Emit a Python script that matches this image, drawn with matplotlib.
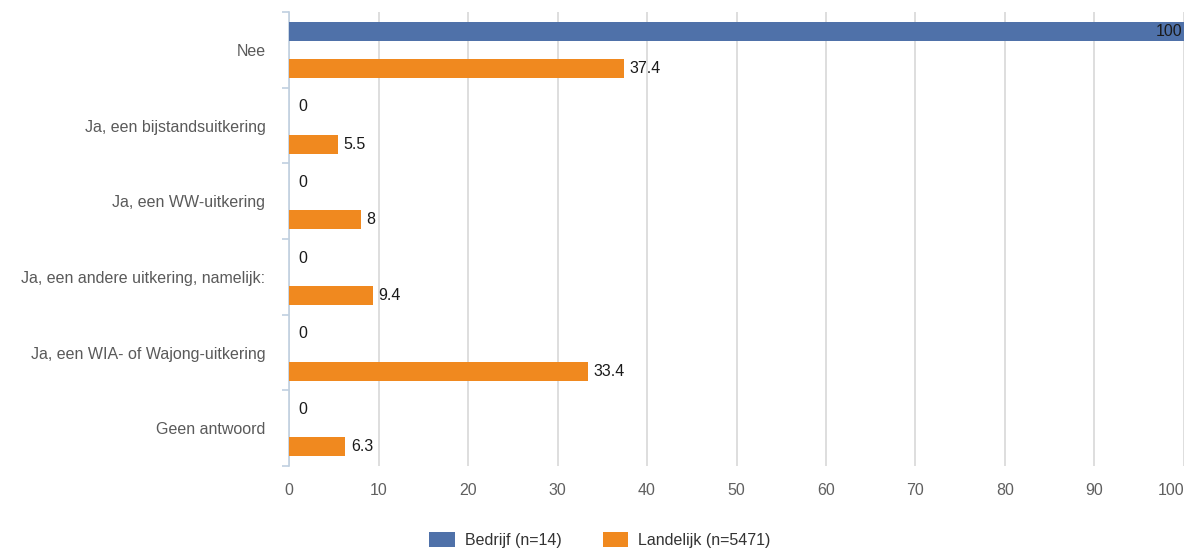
import numpy as np
import matplotlib.pyplot as plt

plt.rcParams['font.family'] = ['Liberation Sans', 'DejaVu Sans']

categories = ['Nee', 'Ja, een bijstandsuitkering', 'Ja, een WW-uitkering',
              'Ja, een andere uitkering, namelijk:', 'Ja, een WIA- of Wajong-uitkering',
              'Geen antwoord']
bedrijf = [100, 0, 0, 0, 0, 0]
landelijk = [37.4, 5.5, 8, 9.4, 33.4, 6.3]
series_names = ['Bedrijf (n=14)', 'Landelijk (n=5471)']
xticks = [0, 10, 20, 30, 40, 50, 60, 70, 80, 90, 100]

blue = '#4f71a9'
orange = '#f0891f'
fs = 11.5

fig = plt.figure(figsize=(11.88, 5.53), dpi=100)
ax = fig.add_axes([0.2433, 0.1573, 0.9966 - 0.2433, 0.9783 - 0.1573])

y = np.arange(len(categories))
h = 0.25
off = 0.245
b1 = ax.barh(y - off, bedrijf, height=h, color=blue, label=series_names[0], zorder=3)
b2 = ax.barh(y + off, landelijk, height=h, color=orange, label=series_names[1], zorder=3)

for rect, v in zip(b1, bedrijf):
    yc = rect.get_y() + rect.get_height() / 2
    if v >= 95:
        ax.annotate(f'{v:g}', (v, yc), xytext=(-1, 0), textcoords='offset points',
                    ha='right', va='center', fontsize=fs, color='#1a1a1a', zorder=4)
    else:
        ax.annotate(f'{v:g}', (v, yc), xytext=(7, 0), textcoords='offset points',
                    ha='left', va='center', fontsize=fs, color='#1a1a1a', zorder=4)
for rect, v in zip(b2, landelijk):
    yc = rect.get_y() + rect.get_height() / 2
    ax.annotate(f'{v:g}', (v, yc), xytext=(4, 0), textcoords='offset points',
                ha='left', va='center', fontsize=fs, color='#1a1a1a', zorder=4)

ax.set_xlim(0, 100)
ax.set_ylim(len(categories) - 0.5, -0.5)
ax.set_xticks(xticks)
ax.set_xticklabels([str(t) for t in xticks], fontsize=fs, color='#606060')
ax.get_xticklabels()[-1].set_horizontalalignment('right')
ax.set_yticks(y)
ax.set_yticklabels(categories, fontsize=fs, color='#5a5a5a')
ax.set_yticks(np.arange(-0.5, len(categories)), minor=True)
ax.tick_params(axis='y', which='major', length=0, pad=17)
ax.tick_params(axis='y', which='minor', length=5, color='#c0d0e0', width=1.2)
ax.tick_params(axis='x', length=0, pad=12)

ax.grid(axis='x', color='#d8d8d8', linewidth=1.2, zorder=0)
for s in ['top', 'right', 'bottom']:
    ax.spines[s].set_visible(False)
ax.spines['left'].set_color('#c0d0e0')
ax.spines['left'].set_linewidth(1.2)

fig.legend(handles=[b1, b2], labels=series_names, loc='center',
           bbox_to_anchor=(0.505, 0.0235), ncol=2, frameon=False, fontsize=fs,
           handlelength=1.6, handleheight=1.1, columnspacing=2.6, handletextpad=0.6,
           labelcolor='#333333')

fig.savefig('out.png', dpi=100)
